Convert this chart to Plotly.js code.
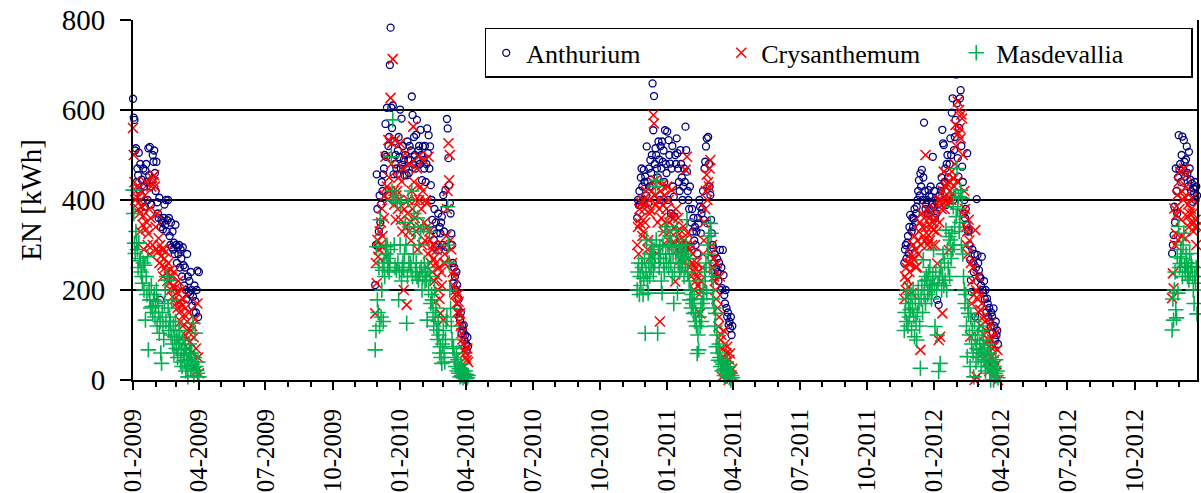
<!DOCTYPE html>
<html>
<head>
<meta charset="utf-8">
<script src="https://cdn.plot.ly/plotly-3.0.1.min.js"></script>
<style>
  html, body { margin: 0; padding: 0; background: #ffffff; }
  #chart { width: 1201px; height: 493px; }
  #chart .modebar-container { display: none !important; }
</style>
</head>
<body>
<div id="chart"></div>
<script>
// First day of the daily readings in each heating season
const seasonStarts = ['2009-01-01', '2009-11-28', '2010-11-21', '2011-11-21', '2012-11-21'];

// Daily energy use EN [kWh] per crop, one value per day from the season start
const anthurium1 = [
  625, 583, 578, 510, 515, 440, 470, 455, 505, 420,
  480, 410, 445, 395, 470, 430, 385, 465, 480, 440,
  400, 515, 455, 518, 430, 390, 445, 500, 485, 510,
  460, 420, 485, 395, 370, 360, 405, 178, 340, 355,
  350, 335, 360, 390, 345, 400, 330, 355, 400, 360,
  320, 300, 350, 295, 330, 290, 305, 280, 345, 300,
  260, 295, 280, 300, 250, 290, 270, 230, 295, 255,
  210, 250, 200, 180, 280, 230, 195, 220, 190, 240,
  200, 165, 185, 150, 210, 175, 150, 200, 243, 140,
  240];
const crysanthemum1 = [
  560, 500, 440, 400, 420, 430, 405, 380, 395, 370,
  330, 420, 385, 345, 365, 290, 410, 440, 335, 350,
  300, 325, 380, 280, 360, 430, 450, 300, 440, 455,
  430, 340, 290, 370, 285, 315, 260, 300, 275, 290,
  255, 230, 290, 270, 250, 285, 240, 220, 260, 230,
  215, 245, 200, 230, 185, 210, 240, 180, 205, 170,
  195, 160, 220, 150, 175, 130, 200, 165, 120, 180,
  145, 100, 160, 90, 130, 70, 115, 150, 85, 110,
  60, 120, 40, 95, 30, 135, 70, 20, 170, 50,
  15];
const masdevallia1 = [
  422, 370, 304, 281, 330, 304, 290, 250, 305, 265,
  270, 240, 230, 215, 260, 200, 255, 133, 230, 190,
  274, 67, 200, 178, 160, 210, 163, 150, 178, 190,
  140, 165, 200, 120, 175, 150, 104, 130, 60, 37,
  150, 120, 90, 170, 200, 130, 230, 222, 160, 110,
  140, 130, 100, 178, 80, 120, 60, 96, 130, 70,
  96, 50, 80, 110, 89, 40, 67, 30, 90, 55,
  44, 70, 20, 59, 30, 7, 45, 80, 59, 25,
  60, 35, 126, 10, 50, 104, 30, 22, 15, 40,
  7];

const anthurium2 = [
  211, 300, 457, 380, 296, 330, 410, 350, 390, 440,
  420, 457, 470, 500, 569, 496, 605, 411, 520, 540,
  700, 783, 605, 560, 610, 457, 530, 480, 500, 470,
  457, 510, 540, 495, 601, 470, 581, 478, 520, 489,
  455, 500, 470, 455, 530, 490, 460, 520, 489, 510,
  630, 589, 480, 540, 500, 470, 545, 578, 489, 510,
  520, 480, 556, 500, 444, 519, 489, 470, 520, 440,
  480, 559, 504, 544, 470, 519, 433, 400, 356, 333,
  311, 380, 296, 350, 326, 300, 370, 289, 340, 326,
  350, 363, 300, 411, 330, 380, 422, 296, 580, 559,
  493, 433, 393, 370, 326, 300, 260, 215, 250, 230,
  200, 240, 211, 159, 180, 140, 133, 150, 104, 120,
  110, 122, 89, 100, 80, 67, 95, 75];
const crysanthemum2 = [
  148, 260, 215, 311, 274, 290, 330, 300, 350, 381,
  320, 296, 360, 410, 496, 274, 430, 400, 533, 450,
  420, 627, 480, 526, 713, 420, 390, 533, 356, 410,
  420, 380, 450, 400, 526, 356, 441, 330, 470, 200,
  380, 504, 340, 167, 370, 400, 330, 480, 352, 310,
  420, 380, 563, 440, 360, 400, 330, 470, 290, 496,
  400, 340, 430, 380, 300, 420, 489, 350, 310, 400,
  393, 340, 280, 496, 330, 311, 260, 290, 240, 300,
  270, 220, 174, 260, 289, 230, 200, 250, 180, 148,
  240, 210, 300, 133, 260, 280, 259, 320, 380, 420,
  526, 444, 500, 311, 290, 260, 240, 210, 230, 190,
  200, 170, 150, 190, 174, 130, 148, 120, 104, 90,
  80, 67, 30, 60, 50, 44, 70, 40];
const masdevallia2 = [
  67, 110, 296, 178, 150, 250, 120, 356, 140, 200,
  244, 130, 260, 230, 296, 280, 300, 250, 270, 240,
  260, 290, 496, 420, 578, 400, 300, 250, 410, 244,
  395, 260, 178, 240, 300, 393, 220, 250, 260, 244,
  280, 350, 300, 126, 230, 400, 260, 340, 259, 250,
  420, 230, 280, 370, 330, 240, 260, 230, 360, 222,
  300, 240, 330, 250, 200, 230, 340, 260, 220, 240,
  222, 133, 250, 200, 330, 230, 170, 190, 178, 150,
  120, 200, 140, 160, 111, 90, 130, 100, 60, 74,
  50, 37, 80, 110, 60, 40, 90, 130, 140, 385,
  300, 260, 200, 159, 120, 90, 70, 74, 50, 40,
  30, 60, 20, 45, 15, 25, 7, 35, 10, 20,
  5, 15, 8, 20, 3, 12, 5, 10];

const anthurium3 = [
  360, 400, 389, 420, 389, 450, 470, 430, 400, 467,
  440, 452, 410, 519, 441, 393, 470, 430, 489, 460,
  500, 659, 555, 631, 480, 515, 500, 470, 450, 530,
  490, 400, 520, 470, 530, 485, 510, 440, 555, 480,
  460, 552, 400, 533, 500, 481, 370, 470, 520, 430,
  407, 363, 500, 480, 537, 504, 470, 440, 420, 511,
  480, 450, 400, 430, 470, 440, 563, 511, 463, 420,
  400, 380, 430, 296, 350, 380, 330, 360, 310, 340,
  300, 330, 281, 360, 348, 400, 385, 326, 370, 380,
  420, 356, 470, 485, 519, 537, 348, 540, 480, 430,
  411, 356, 326, 300, 293, 260, 280, 230, 250, 270,
  240, 220, 260, 289, 200, 250, 204, 289, 233, 189,
  170, 200, 160, 141, 150, 122, 130, 115, 140, 100,
  120];
const crysanthemum3 = [
  300, 340, 280, 380, 348, 360, 393, 320, 400, 330,
  380, 350, 420, 393, 290, 311, 400, 370, 378, 274,
  420, 440, 589, 570, 410, 444, 390, 281, 350, 400,
  380, 130, 420, 360, 433, 390, 330, 410, 350, 300,
  380, 430, 311, 400, 350, 330, 370, 422, 300, 360,
  307, 340, 219, 380, 330, 290, 360, 310, 280, 267,
  300, 330, 290, 341, 310, 280, 467, 300, 496, 326,
  270, 290, 250, 300, 230, 260, 280, 241, 200, 250,
  220, 260, 230, 210, 240, 190, 148, 220, 200, 250,
  280, 310, 350, 380, 420, 456, 400, 440, 430, 470,
  489, 281, 300, 250, 270, 230, 220, 200, 180, 259,
  160, 119, 140, 230, 89, 100, 7, 70, 110, 50,
  80, 40, 60, 74, 30, 0, 45, 59, 20, 10,
  25];
const masdevallia3 = [
  200, 240, 260, 190, 230, 210, 259, 250, 190, 226,
  270, 104, 240, 311, 220, 193, 260, 230, 280, 250,
  300, 270, 240, 290, 260, 430, 311, 444, 104, 280,
  250, 296, 270, 220, 193, 300, 260, 240, 330, 280,
  260, 341, 300, 250, 280, 320, 260, 300, 230, 280,
  170, 240, 296, 280, 333, 193, 260, 300, 240, 280,
  250, 300, 260, 274, 230, 280, 250, 300, 356, 240,
  270, 220, 178, 200, 160, 190, 170, 148, 180, 130,
  150, 120, 59, 100, 67, 140, 119, 160, 130, 170,
  200, 180, 240, 220, 260, 193, 300, 280, 320, 250,
  348, 326, 230, 180, 200, 160, 120, 148, 74, 100,
  60, 44, 80, 50, 30, 40, 20, 35, 22, 10,
  25, 15, 40, 8, 18, 30, 5, 15, 0, 10,
  5];

const anthurium4 = [
  260, 290, 300, 270, 305, 320, 281, 340, 367, 296,
  330, 360, 340, 359, 380, 350, 370, 385, 400, 420,
  444, 410, 459, 430, 467, 400, 450, 572, 420, 380,
  390, 400, 370, 422, 410, 380, 430, 407, 390, 496,
  385, 420, 360, 400, 370, 178, 390, 167, 410, 430,
  420, 450, 556, 526, 522, 440, 470, 389, 480, 500,
  450, 407, 480, 537, 500, 594, 626, 400, 511, 540,
  578, 679, 615, 493, 452, 560, 626, 644, 520, 474,
  440, 370, 400, 360, 380, 345, 504, 330, 333, 300,
  267, 222, 196, 290, 260, 240, 280, 141, 250, 402,
  278, 260, 244, 230, 226, 210, 274, 200, 193, 220,
  180, 200, 150, 181, 170, 140, 160, 130, 119, 150,
  141, 104, 159, 120, 90, 130, 100, 110, 80];
const crysanthemum4 = [
  180, 230, 200, 250, 222, 260, 207, 240, 259, 280,
  193, 274, 300, 267, 320, 290, 250, 252, 310, 280,
  330, 350, 67, 300, 370, 340, 320, 360, 310, 500,
  340, 380, 300, 322, 360, 310, 363, 340, 300, 350,
  333, 380, 300, 360, 330, 259, 400, 89, 350, 96,
  400, 380, 148, 420, 463, 380, 407, 430, 437, 400,
  390, 289, 420, 440, 400, 463, 415, 448, 430, 480,
  567, 520, 441, 619, 548, 600, 560, 537, 590, 581,
  500, 367, 420, 380, 340, 300, 330, 280, 356, 310,
  96, 260, 170, 220, 250, 189, 0, 333, 200, 7,
  230, 180, 150, 190, 156, 120, 170, 60, 140, 100,
  130, 80, 110, 40, 90, 60, 20, 75, 126, 50,
  90, 30, 74, 45, 104, 15, 35, 67, 0];
const masdevallia4 = [
  110, 150, 180, 130, 200, 120, 170, 140, 156, 190,
  111, 160, 200, 141, 96, 180, 130, 89, 150, 200,
  170, 120, 26, 180, 210, 150, 267, 190, 220, 170,
  230, 222, 190, 240, 200, 250, 211, 180, 200, 230,
  289, 210, 119, 240, 200, 100, 215, 19, 230, 37,
  250, 200, 230, 280, 210, 260, 222, 333, 200, 290,
  250, 319, 230, 311, 270, 326, 290, 385, 300, 340,
  415, 363, 470, 380, 407, 330, 350, 422, 300, 404,
  280, 230, 200, 170, 190, 120, 52, 160, 148, 100,
  30, 140, 80, 110, 60, 7, 130, 90, 40, 70,
  100, 50, 120, 80, 67, 30, 60, 110, 89, 45,
  70, 20, 55, 41, 80, 30, 60, 15, 0, 50,
  25, 40, 0, 30, 15, 45, 10, 20, 5];

const anthurium5 = [
  281, 300, 322, 385, 350, 470, 420, 370, 450, 544,
  467, 480, 440, 500, 541, 470, 533, 485, 452, 490,
  519, 460, 430, 507, 470, 445, 420, 437, 396, 426,
  415, 440, 400, 430, 410];
const crysanthemum5 = [
  182, 237, 204, 381, 300, 326, 367, 411, 311, 440,
  380, 463, 356, 319, 419, 400, 470, 407, 315, 430,
  456, 363, 390, 340, 370, 350, 380, 404, 370, 330,
  350, 340, 356, 300, 341];
const masdevallia5 = [
  111, 180, 133, 200, 240, 156, 138, 274, 193, 341,
  250, 259, 290, 270, 230, 300, 326, 252, 240, 280,
  260, 230, 250, 222, 281, 240, 260, 252, 230, 200,
  170, 230, 215, 250, 147];

const seriesNames = ['Anthurium', 'Crysanthemum', 'Masdevallia'];
const seriesSeasons = [
  [anthurium1, anthurium2, anthurium3, anthurium4, anthurium5],
  [crysanthemum1, crysanthemum2, crysanthemum3, crysanthemum4, crysanthemum5],
  [masdevallia1, masdevallia2, masdevallia3, masdevallia4, masdevallia5]
];

const yTickValues = [0, 200, 400, 600, 800];

// Date string n days after an ISO start date
function addDays(iso, n) {
  const p = iso.split('-').map(Number);
  const d = new Date(Date.UTC(p[0], p[1] - 1, p[2] + n));
  return d.toISOString().slice(0, 10);
}

// Join the seasons of one crop into a single dated series
function joinSeasons(seasons) {
  const x = [], y = [];
  seasons.forEach((vals, s) => {
    vals.forEach((v, i) => { x.push(addDays(seasonStarts[s], i)); y.push(v); });
  });
  return { x, y };
}

const markerStyles = [
  { symbol: 'circle-open', size: 7, color: '#000080', line: { width: 1.3, color: '#000080' } },
  { symbol: 'x-thin-open', size: 10, color: '#ff0000', line: { width: 1.5, color: '#ff0000' } },
  { symbol: 'cross-thin-open', size: 11, color: '#00b050', line: { width: 1.6, color: '#00b050' } }
];

const traces = seriesNames.map((name, k) => {
  const s = joinSeasons(seriesSeasons[k]);
  return {
    type: 'scatter', mode: 'markers', name: name,
    x: s.x, y: s.y,
    marker: markerStyles[k],
    cliponaxis: false
  };
});

const layout = {
  width: 1201, height: 493,
  margin: { l: 133, r: 4, t: 20, b: 113, pad: 0 },
  paper_bgcolor: '#ffffff', plot_bgcolor: '#ffffff',
  showlegend: true,
  xaxis: {
    type: 'date',
    range: ['2009-01-01', '2012-12-25'],
    tick0: '2009-01-01', dtick: 'M3', tickformat: '%m-%Y',
    tickangle: -90,
    ticks: 'outside', ticklen: 8, tickwidth: 1.5, tickcolor: 'black',
    minor: { dtick: 'M1', ticks: 'outside', ticklen: 5, tickwidth: 1.5, tickcolor: 'black', showgrid: false },
    showline: true, linecolor: 'black', linewidth: 2,
    showgrid: false, zeroline: false,
    tickfont: { family: 'Liberation Serif', size: 25, color: 'black' },
    ticklabelstandoff: 9,
    automargin: false
  },
  yaxis: {
    range: [0, 800],
    tickvals: yTickValues,
    ticks: 'outside', ticklen: 11, tickwidth: 1.5, tickcolor: 'black',
    showline: true, linecolor: 'black', linewidth: 2, mirror: true,
    showgrid: true, gridcolor: 'black', gridwidth: 1.5,
    zeroline: false,
    tickfont: { family: 'Liberation Serif', size: 29, color: 'black' },
    ticklabelstandoff: 9,
    title: { text: 'EN [kWh]', font: { family: 'Liberation Serif', size: 29, color: 'black' }, standoff: 12 },
    automargin: false
  },
  legend: {
    orientation: 'h',
    x: 0.996, xanchor: 'right',
    y: 0.978, yanchor: 'top',
    bgcolor: 'white', bordercolor: 'black', borderwidth: 1.5,
    font: { family: 'Liberation Serif', size: 26, color: 'black' },
    entrywidth: 190, entrywidthmode: 'pixels'
  }
};

Plotly.newPlot('chart', traces, layout);
</script>
</body>
</html>
